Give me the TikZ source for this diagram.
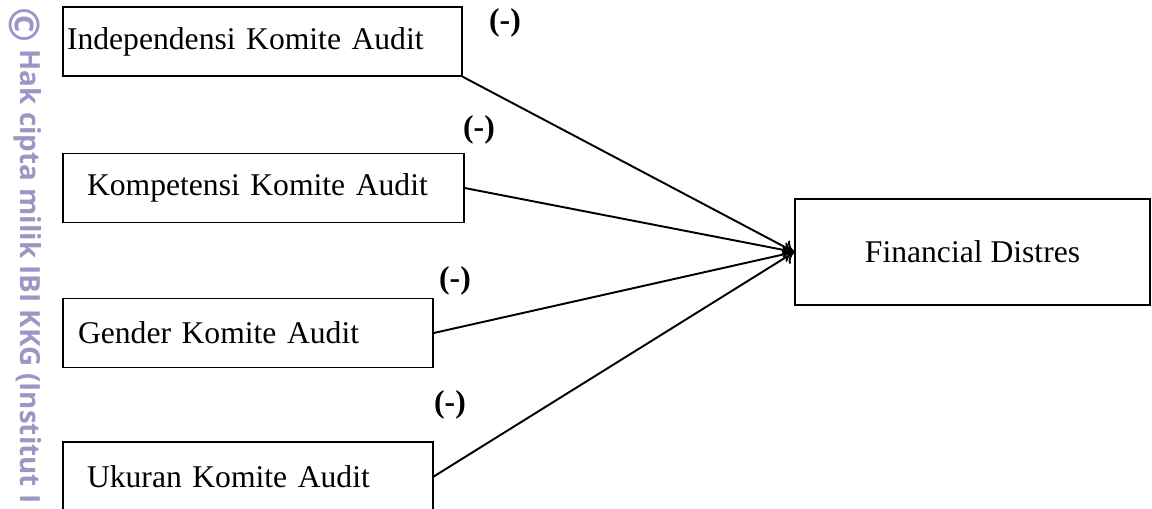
\documentclass[tikz,border=0pt]{standalone}
\usepackage{fontspec}
\usetikzlibrary{arrows.meta}
\setmainfont{Liberation Serif}
\newfontfamily\wmfont{Open Sans}
\definecolor{wmgray}{RGB}{155,150,195}

\begin{document}
\begin{tikzpicture}[x=0.02cm,y=-0.02cm,
        varbox/.style={draw, line width=0.85pt, align=left, minimum height=1.38cm,
            font=\fontsize{18}{22}\selectfont},
        sign/.style={font=\bfseries\fontsize{18}{22}\selectfont},
        link/.style={line width=1.1pt, -{To[length=6pt,width=9pt]}}]
        \clip (0,0) rectangle (1152,508);

        % watermark on the left margin
        \node[rotate=-90, anchor=base west, inner sep=0pt, text=wmgray,
            font=\wmfont\bfseries\fontsize{15.8}{18}\selectfont] (hak) at (20,7)
            {\raisebox{-6pt}{\fontsize{24}{24}\selectfont ©} Hak cipta milik IBI KKG (Institut I};

        \node[varbox, inner xsep=0.08cm, text width=7.82cm] (indep) at (262.5,41.5) {\raisebox{-3pt}{Independensi  Komite  Audit}};
        \node[varbox, inner xsep=0.48cm, text width=7.06cm] (komp) at (263.5,188) {Kompetensi Komite Audit};
        \node[varbox, inner xsep=0.30cm, text width=6.80cm] (gender) at (248,333) {Gender  Komite  Audit};
        \node[varbox, inner xsep=0.48cm, text width=6.44cm] (ukuran) at (248,476.5) {Ukuran  Komite  Audit};
        \node[draw, line width=0.85pt, minimum width=7.1cm, minimum height=2.12cm,
            font=\fontsize{18}{22}\selectfont] (fd) at (972.5,252) {Financial  Distres};

        \draw[link] (indep.south east) -- (fd.west);
        \draw[link] (komp.east) -- (fd.west);
        \draw[link] (gender.east) -- (fd.west);
        \draw[link] (ukuran.east) -- (fd.west);

        \node[sign] (s1) at (505,23) {(-)};
        \node[sign] (s2) at (479,130) {(-)};
        \node[sign] (s3) at (455,281) {(-)};
        \node[sign] (s4) at (450,405) {(-)};

    \end{tikzpicture}
\end{document}
